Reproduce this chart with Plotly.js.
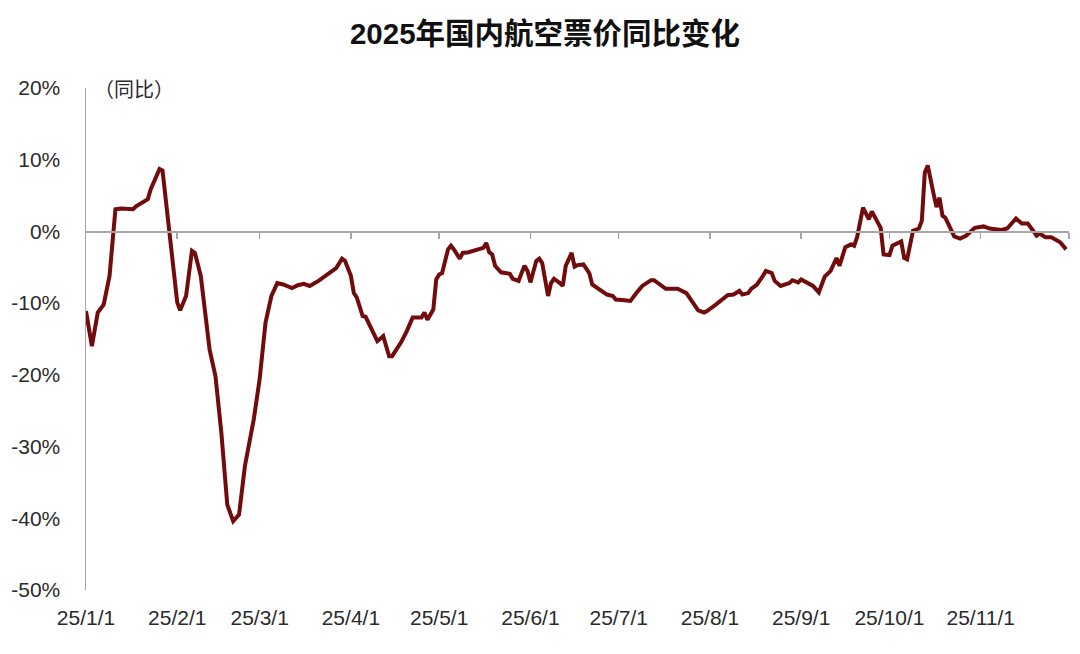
<!DOCTYPE html>
<html>
<head>
<meta charset="utf-8">
<script src="https://cdn.plot.ly/plotly-3.0.1.min.js"></script>
<style>html,body{margin:0;padding:0;background:#fff;}#chart{width:1080px;height:654px;}</style>
</head>
<body>
<div id="chart"></div>
<script>
const chartTitle = '2025年国内航空票价同比变化';
const unitLabel = '（同比）';

const dates = [
'2025-01-01','2025-01-03','2025-01-05','2025-01-07','2025-01-09','2025-01-11','2025-01-13','2025-01-17','2025-01-18','2025-01-22',
'2025-01-23','2025-01-26','2025-01-27','2025-01-29','2025-02-01','2025-02-02','2025-02-04','2025-02-06','2025-02-07','2025-02-09',
'2025-02-12','2025-02-14','2025-02-16','2025-02-18','2025-02-20','2025-02-22','2025-02-24','2025-02-27','2025-03-01','2025-03-03',
'2025-03-05','2025-03-07','2025-03-09','2025-03-12','2025-03-14','2025-03-16','2025-03-18','2025-03-21','2025-03-24','2025-03-27',
'2025-03-29','2025-03-30','2025-04-01','2025-04-02','2025-04-03','2025-04-05','2025-04-06','2025-04-08','2025-04-10','2025-04-12',
'2025-04-14','2025-04-15','2025-04-18','2025-04-20','2025-04-22','2025-04-25','2025-04-26','2025-04-27','2025-04-29','2025-04-30',
'2025-05-01','2025-05-02','2025-05-04','2025-05-05','2025-05-06','2025-05-08','2025-05-09','2025-05-11','2025-05-14','2025-05-16',
'2025-05-17','2025-05-18','2025-05-19','2025-05-20','2025-05-22','2025-05-25','2025-05-26','2025-05-28','2025-05-29','2025-05-30',
'2025-05-31','2025-06-01','2025-06-03','2025-06-04','2025-06-05','2025-06-06','2025-06-07','2025-06-08','2025-06-09','2025-06-11',
'2025-06-12','2025-06-13','2025-06-15','2025-06-16','2025-06-17','2025-06-19','2025-06-21','2025-06-22','2025-06-25','2025-06-27',
'2025-06-29','2025-06-30','2025-07-03','2025-07-05','2025-07-07','2025-07-09','2025-07-12','2025-07-13','2025-07-17','2025-07-21',
'2025-07-24','2025-07-26','2025-07-28','2025-07-30','2025-07-31','2025-08-03','2025-08-06','2025-08-07','2025-08-09','2025-08-11',
'2025-08-12','2025-08-14','2025-08-15','2025-08-17','2025-08-19','2025-08-20','2025-08-22','2025-08-23','2025-08-25','2025-08-28',
'2025-08-29','2025-08-31','2025-09-01','2025-09-03','2025-09-05','2025-09-07','2025-09-09','2025-09-11','2025-09-13','2025-09-14',
'2025-09-16','2025-09-18','2025-09-19','2025-09-20','2025-09-22','2025-09-24','2025-09-25','2025-09-28','2025-09-29','2025-10-01',
'2025-10-02','2025-10-05','2025-10-06','2025-10-07','2025-10-09','2025-10-11','2025-10-12','2025-10-13','2025-10-14','2025-10-16',
'2025-10-17','2025-10-18','2025-10-19','2025-10-20','2025-10-22','2025-10-23','2025-10-25','2025-10-27','2025-10-30','2025-11-02',
'2025-11-04','2025-11-08','2025-11-10','2025-11-13','2025-11-15','2025-11-17','2025-11-19','2025-11-20','2025-11-21','2025-11-23',
'2025-11-25','2025-11-28','2025-11-29','2025-11-30'
];

const yoyChange = [
-11.1,-16.0,-11.3,-10.2,-6.2,3.1,3.2,3.1,3.5,4.5,
5.9,8.7,8.5,1.2,-9.9,-11.0,-9.0,-2.7,-3.0,-6.2,
-16.5,-20.2,-28.1,-38.1,-40.4,-39.5,-32.7,-26.2,-20.6,-12.7,
-9.0,-7.2,-7.4,-7.9,-7.5,-7.3,-7.6,-6.9,-6.0,-5.1,
-3.8,-4.1,-6.2,-8.6,-9.2,-11.8,-11.9,-13.7,-15.3,-14.6,
-17.4,-17.4,-15.5,-13.9,-12.0,-12.0,-11.3,-12.3,-10.9,-6.7,
-6.0,-5.8,-2.5,-2.0,-2.5,-3.8,-3.0,-2.9,-2.5,-2.3,
-1.6,-2.9,-3.2,-4.8,-5.7,-5.9,-6.6,-6.9,-5.8,-4.8,
-5.5,-7.1,-4.1,-3.8,-4.4,-6.9,-9.0,-7.2,-6.6,-7.2,
-7.6,-4.8,-3.0,-4.9,-4.7,-4.6,-5.8,-7.4,-8.3,-8.8,
-9.0,-9.5,-9.6,-9.7,-8.6,-7.6,-6.8,-6.8,-8.0,-8.0,
-8.6,-9.9,-11.0,-11.3,-11.1,-10.2,-9.2,-8.9,-8.8,-8.3,
-8.8,-8.6,-8.0,-7.4,-6.2,-5.5,-5.8,-6.9,-7.6,-7.2,
-6.8,-7.1,-6.7,-7.2,-7.6,-8.5,-6.3,-5.5,-3.7,-4.8,
-2.2,-1.8,-2.0,-0.8,3.3,1.7,2.8,0.5,-3.2,-3.3,
-2.0,-1.4,-3.7,-3.9,0.1,0.4,1.5,8.2,9.2,5.2,
3.4,4.7,2.2,1.9,0.3,-0.7,-1.0,-0.6,0.5,0.7,
0.4,0.2,0.4,1.8,1.1,1.1,0.0,-0.6,-0.3,-0.8,
-0.8,-1.5,-2.0,-2.5
];

const monthTicks = ['2025-01-01','2025-02-01','2025-03-01','2025-04-01','2025-05-01','2025-06-01','2025-07-01','2025-08-01','2025-09-01','2025-10-01','2025-11-01'];
const monthTickLabels = ['25/1/1','25/2/1','25/3/1','25/4/1','25/5/1','25/6/1','25/7/1','25/8/1','25/9/1','25/10/1','25/11/1'];
const zeroLineTicks = ['2025-02-01','2025-03-01','2025-04-01','2025-05-01','2025-06-01','2025-07-01','2025-08-01','2025-09-01','2025-10-01','2025-11-01','2025-12-01'];
const xRange = ['2025-01-01','2025-12-01'];
const yTickVals = [20,10,0,-10,-20,-30,-40,-50];
const yTickLabels = ['20%','10%','0%','-10%','-20%','-30%','-40%','-50%'];
const yRange = [-50,20];

const fontFam = 'Liberation Sans, Arial, Noto Sans CJK SC, sans-serif';
const axisGray = '#a6a6a6';
const textCol = '#2b2b2b';

const traces = [
  {
    x: dates, y: yoyChange, type: 'scatter', mode: 'lines',
    line: {color: '#720b0b', width: 4, shape: 'linear'},
    hoverinfo: 'x+y', showlegend: false
  },
  {
    x: [], y: [], xaxis: 'x2', yaxis: 'y', type: 'scatter', mode: 'lines', showlegend: false, hoverinfo: 'skip'
  }
];

const zeroPos = (0 - yRange[0]) / (yRange[1] - yRange[0]);

const layout = {
  width: 1080, height: 654,
  margin: {l: 86, r: 11, t: 88, b: 64},
  paper_bgcolor: '#ffffff', plot_bgcolor: '#ffffff',
  showlegend: false,
  title: {
    text: '<b>' + chartTitle + '</b>',
    font: {family: fontFam, size: 29.5, color: '#111111'},
    x: 545/1080, xref: 'container', xanchor: 'center',
    y: 1 - 34/654, yref: 'container', yanchor: 'middle'
  },
  xaxis: {
    type: 'date', range: xRange,
    tickmode: 'array', tickvals: monthTicks, ticktext: monthTickLabels,
    showline: false, showgrid: false, zeroline: false, ticks: '',
    tickfont: {family: fontFam, size: 21, color: textCol},
    ticklabelstandoff: 13
  },
  xaxis2: {
    type: 'date', range: xRange, overlaying: 'x', anchor: 'free', position: zeroPos,
    tickmode: 'array', tickvals: zeroLineTicks, showticklabels: false,
    showline: true, linecolor: axisGray, linewidth: 1.5,
    ticks: 'outside', ticklen: 6, tickcolor: axisGray, tickwidth: 1.5,
    showgrid: false, zeroline: false
  },
  yaxis: {
    range: yRange, tickmode: 'array', tickvals: yTickVals, ticktext: yTickLabels,
    showline: true, linecolor: axisGray, linewidth: 1.5,
    showgrid: false, zeroline: false, ticks: '',
    tickfont: {family: fontFam, size: 21, color: textCol},
    ticklabelstandoff: 20
  },
  annotations: [
    {
      text: unitLabel, xref: 'paper', yref: 'paper', x: 0.006, y: 1.0,
      xanchor: 'left', yanchor: 'middle', showarrow: false,
      font: {family: 'Noto Sans CJK SC, sans-serif', size: 20, color: textCol}
    }
  ]
};

Plotly.newPlot('chart', traces, layout, {displayModeBar: false, staticPlot: true});
</script>
</body>
</html>
